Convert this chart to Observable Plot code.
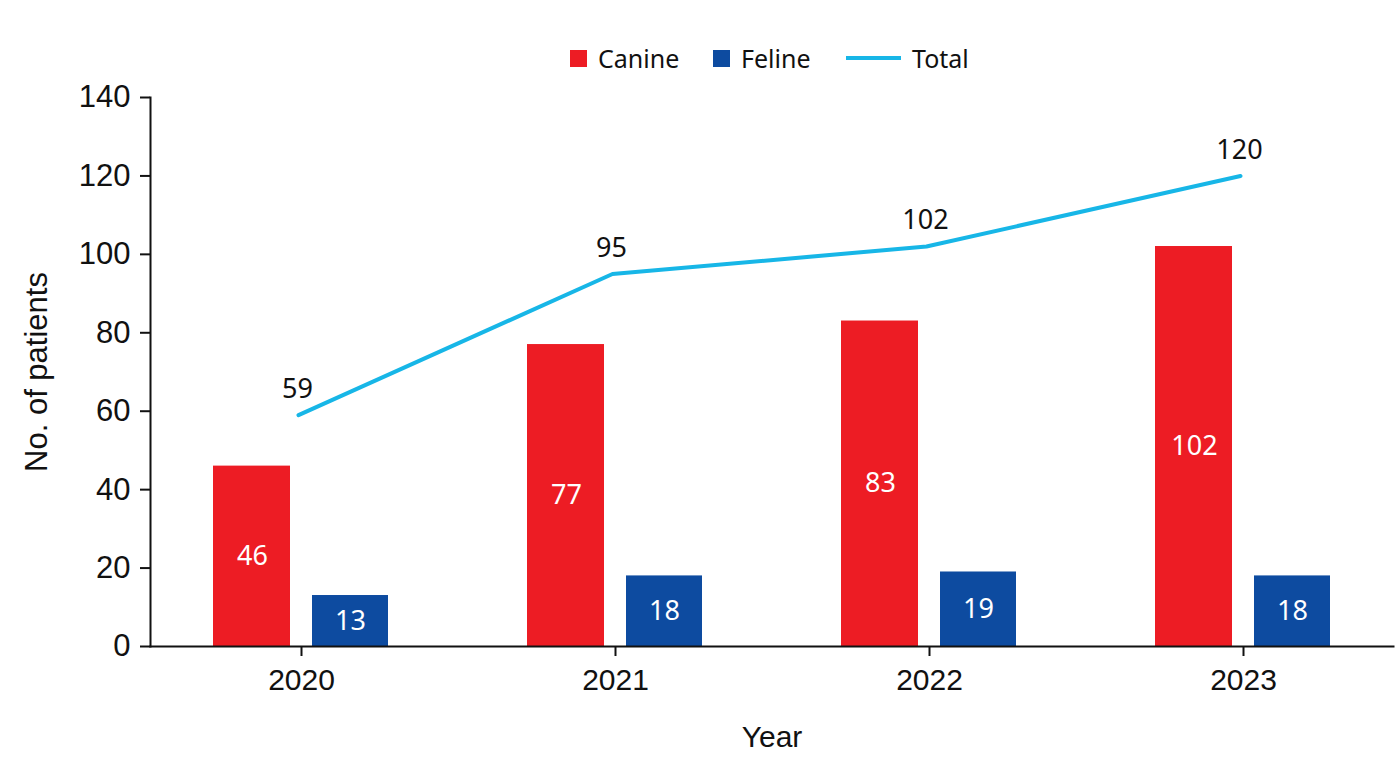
<!DOCTYPE html>
<html>
<head>
<meta charset="utf-8">
<script src="https://cdn.jsdelivr.net/npm/d3@7"></script>
<script src="https://cdn.jsdelivr.net/npm/@observablehq/plot@0.6"></script>
<style>
  html, body { margin: 0; padding: 0; background: #fff; }
  #legend { height: 80px; position: relative; font-family: "Noto Sans", sans-serif; font-size: 25px; color: #111; }
  #legend .item { position: absolute; top: 40px; display: flex; align-items: center; height: 36px; }
  #legend .sw { width: 17px; height: 17px; margin-right: 11px; }
  #legend .ln { width: 55px; height: 4px; margin-right: 11px; }
</style>
</head>
<body>
<div id="legend"></div>
<div id="chart"></div>
<script>
const years = ["2020", "2021", "2022", "2023"];
const canine = [46, 77, 83, 102];
const feline = [13, 18, 19, 18];
const total = [59, 95, 102, 120];
const yTicks = [0, 20, 40, 60, 80, 100, 120, 140];

const colors = {Canine: "#ED1C24", Feline: "#0D4BA0", Total: "#17B6E7"};

const canineData = years.map((y, i) => ({year: y, value: canine[i]}));
const felineData = years.map((y, i) => ({year: y, value: feline[i]}));
const totalData = years.map((y, i) => ({year: y, value: total[i]}));

// Legend (HTML, above the SVG)
const legend = document.getElementById("legend");
const items = [
  {name: "Canine", type: "sw", left: 570},
  {name: "Feline", type: "sw", left: 713},
  {name: "Total", type: "ln", left: 846}
];
for (const it of items) {
  const d = document.createElement("div");
  d.className = "item";
  d.style.left = it.left + "px";
  const s = document.createElement("div");
  s.className = it.type;
  s.style.background = colors[it.name];
  d.appendChild(s);
  const t = document.createElement("span");
  t.textContent = it.name;
  d.appendChild(t);
  legend.appendChild(d);
}

const tickFont = "Liberation Sans, Arial, sans-serif";
const labelFont = "Noto Sans, sans-serif";

const chart = Plot.plot({
  width: 1400,
  height: 694,
  marginTop: 17,
  marginBottom: 128,
  marginLeft: 150,
  marginRight: 7,
  style: {fontFamily: tickFont, fontSize: "30px", color: "#111", background: "#fff"},
  x: {domain: years, range: [143, 1400], padding: 0, label: null},
  y: {domain: [0, 140], label: null},
  marks: [
    Plot.barY(canineData, {x: "year", y: "value", fill: colors.Canine, insetLeft: 69, insetRight: 168}),
    Plot.barY(felineData, {x: "year", y: "value", fill: colors.Feline, insetLeft: 168, insetRight: 70}),
    Plot.text(canineData, {x: "year", y: d => d.value / 2, text: d => String(d.value), dx: -49, fill: "white", fontFamily: labelFont, fontSize: 27}),
    Plot.text(felineData, {x: "year", y: d => d.value / 2, text: d => String(d.value), dx: 49, fill: "white", fontFamily: labelFont, fontSize: 27}),
    Plot.lineY(totalData, {x: "year", y: "value", stroke: colors.Total, strokeWidth: 4, dx: -3}),
    Plot.text(totalData, {x: "year", y: "value", text: d => String(d.value), dy: -26, dx: -4, fill: "#111", fontFamily: labelFont, fontSize: 27}),
    Plot.frame({anchor: "left", stroke: "#111", strokeWidth: 2}),
    Plot.frame({anchor: "bottom", stroke: "#111", strokeWidth: 2}),
    Plot.axisY({ticks: yTicks, tickSize: 10, tickPadding: 10, strokeWidth: 2, fontSize: 30,
      label: "No. of patients", labelAnchor: "center", labelOffset: 126, labelArrow: "none", fontSize: 31}),
    Plot.axisX({tickSize: 10, tickPadding: 12, strokeWidth: 2, fontSize: 30,
      label: "Year", labelAnchor: "center", labelOffset: 100, labelArrow: "none"})
  ]
});
document.getElementById("chart").appendChild(chart);
</script>
</body>
</html>
